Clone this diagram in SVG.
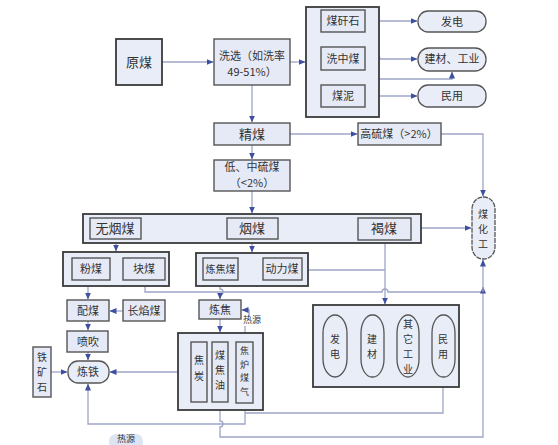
<svg xmlns="http://www.w3.org/2000/svg" width="558" height="445" viewBox="0 0 558 445">
<defs>
<marker id="ar" markerWidth="7" markerHeight="6" refX="6.5" refY="3" orient="auto" markerUnits="userSpaceOnUse">
<path d="M0,0 L7,3 L0,6 Z" fill="#3d4f9e"/>
</marker>
<style>
.ob{fill:#e9edf7;stroke:#3a3a3a;stroke-width:1.8}
.ib{fill:#e6eaf6;stroke:#555;stroke-width:1.4}
.pl{fill:#e9edf7;stroke:#555;stroke-width:1.3}
.c{fill:none;stroke:#9ea5c8;stroke-width:1.3}
.a{marker-end:url(#ar)}
text{font-family:"Noto Sans CJK SC","Liberation Sans",sans-serif;font-size:11px;fill:#333;text-anchor:middle}
.lg{font-size:13px}
.sm{font-size:9px}
.vs{font-size:10px}
.v{font-size:10px}
.xs{font-size:9px}
</style>
</defs>
<rect width="558" height="445" fill="#ffffff"/>

<g id="connectors">
<path class="c a" d="M162 62 H213"/>
<path class="c a" d="M290 62 H305"/>
<path class="c a" d="M365 21 H417"/>
<path class="c a" d="M365 59 H374 a3 3 0 0 1 6 0 H417"/>
<path class="c a" d="M365 96 H417"/>
<path class="c" d="M377 21 V96"/>
<path class="c a" d="M377 79 H452 V72"/>
<path class="c a" d="M252 85 V122"/>
<path class="c a" d="M290 134 H357"/>
<path class="c a" d="M441 134 H483 V196"/>
<path class="c a" d="M252 145 V159"/>
<path class="c a" d="M252 191 V213"/>
<path class="c a" d="M411 228 H471"/>
<path class="c a" d="M116 243 V251"/>
<path class="c a" d="M252 243 V252"/>
<path class="c a" d="M385 240 V304"/>
<path class="c" d="M302 270 H385"/>
<path class="c" d="M145 280 V292 H382 a3 3 0 0 1 6 0 H483"/>
<path class="c a" d="M220 280 V289 a3 3 0 0 1 0 6 V299"/>
<path class="c a" d="M88 286 V299"/>
<path class="c a" d="M123 311 H110"/>
<path class="c a" d="M88 321 V330"/>
<path class="c a" d="M88 352 V360"/>
<path class="c a" d="M51 372 H67"/>
<path class="c a" d="M191 372 H110"/>
<path class="c a" d="M220 319 V332"/>
<path class="c a" d="M245 403 V424 H88 V384"/>
<path class="c a" d="M245 413 H443 V379"/>
<path class="c a" d="M220 410 V421 a3 3 0 0 1 0 6 V437 H483 V287"/>
<path class="c a" d="M483 292 V260"/>
<path class="c" d="M245 342 V326"/>
<path class="c a" d="M249 316 V310 H242"/>
</g>

<g id="yuanmei"><rect class="ob" x="116" y="39" width="46" height="46"/><text class="lg" x="139" y="67">原煤</text></g>
<g id="xixuan"><rect class="ib" x="214" y="39" width="76" height="46"/><text x="252" y="60">洗选（如洗率</text><text x="252" y="76">49-51%）</text></g>
<g id="xuangroup"><rect class="ob" x="306" y="7" width="73" height="110"/></g>
<g id="meiganshi"><rect class="ib" x="321" y="10" width="44" height="22"/><text x="343" y="25">煤矸石</text></g>
<g id="xizhongmei"><rect class="ib" x="321" y="47" width="44" height="23"/><text x="343" y="63">洗中煤</text></g>
<g id="meini"><rect class="ib" x="321" y="85" width="44" height="22"/><text x="343" y="100">煤泥</text></g>
<g id="fadian1"><rect class="pl" x="418" y="11" width="68" height="21" rx="10"/><text x="452" y="26">发电</text></g>
<g id="jiancai1"><rect class="pl" x="418" y="48" width="68" height="23" rx="11"/><text x="452" y="63">建材、工业</text></g>
<g id="minyong1"><rect class="pl" x="418" y="85" width="68" height="22" rx="10"/><text x="452" y="100">民用</text></g>

<g id="jingmei"><rect class="ib" x="214" y="123" width="76" height="22"/><text class="lg" x="252" y="139">精煤</text></g>
<g id="gaoliumei"><rect class="ib" x="358" y="123" width="83" height="22"/><text x="399" y="138">高硫煤（&gt;2%）</text></g>
<g id="dizhongliu"><rect class="ib" x="214" y="160" width="76" height="31"/><text x="252" y="171">低、中硫煤</text><text x="252" y="187">（&lt;2%）</text></g>

<g id="meizhonggroup"><rect class="ob" x="83" y="214" width="338" height="29"/></g>
<g id="wuyanmei"><rect class="ib" x="90" y="218" width="51" height="21"/><text class="lg" x="115" y="233">无烟煤</text></g>
<g id="yanmei"><rect class="ib" x="227" y="218" width="51" height="21"/><text class="lg" x="252" y="233">烟煤</text></g>
<g id="hemei"><rect class="ib" x="358" y="218" width="53" height="22"/><text class="lg" x="384" y="233">褐煤</text></g>
<g id="meihuagong"><rect class="pl" x="472" y="197" width="23" height="62" rx="11" ry="12" stroke-dasharray="5 1"/><text class="v" x="483" y="218">煤</text><text class="v" x="483" y="233">化</text><text class="v" x="483" y="248">工</text></g>

<g id="fenkuaigroup"><rect class="ob" x="63" y="252" width="106" height="34"/></g>
<g id="fenmei"><rect class="ib" x="72" y="258" width="38" height="22"/><text x="91" y="273">粉煤</text></g>
<g id="kuaimei"><rect class="ib" x="123" y="258" width="42" height="22"/><text x="144" y="273">块煤</text></g>
<g id="lianjiaogroup"><rect class="ob" x="196" y="253" width="112" height="33"/></g>
<g id="lianjiaomei"><rect class="ib" x="203" y="258" width="35" height="22"/><text class="vs" x="220.5" y="273">炼焦煤</text></g>
<g id="donglimei"><rect class="ib" x="263" y="258" width="39" height="22"/><text x="282" y="273">动力煤</text></g>

<g id="peimei"><rect class="ib" x="67" y="300" width="42" height="21"/><text x="88" y="315">配煤</text></g>
<g id="changyanmei"><rect class="ib" x="123" y="300" width="42" height="21"/><text x="144" y="315">长焰煤</text></g>
<g id="penchui"><rect class="ib" x="67" y="331" width="41" height="21"/><text x="88" y="346">喷吹</text></g>
<g id="liantie"><rect class="pl" x="68" y="361" width="41" height="22" rx="10"/><text x="88" y="376">炼铁</text></g>
<g id="tiekuangshi"><rect class="ib" x="33" y="347" width="18" height="50"/><text class="v" x="42" y="361">铁</text><text class="v" x="42" y="376">矿</text><text class="v" x="42" y="391">石</text></g>

<g id="lianjiao"><rect class="ib" x="199" y="300" width="42" height="19"/><text x="220" y="314">炼焦</text></g>
<g id="reyuan1"><text class="sm" x="252" y="323">热源</text></g>
<g id="jiaogroup"><rect class="ob" x="178" y="333" width="85" height="77"/></g>
<g id="jiaotan"><rect class="ib" x="191" y="342" width="16" height="60"/><text class="v" x="199" y="364">焦</text><text class="v" x="199" y="380">炭</text></g>
<g id="meijiaoyou"><rect class="ib" x="212" y="342" width="16" height="60"/><text class="v" x="220" y="359">煤</text><text class="v" x="220" y="374">焦</text><text class="v" x="220" y="389">油</text></g>
<g id="jiaolumeiqi"><rect class="ib" x="236" y="342" width="17" height="61"/><text class="xs" x="244.5" y="354">焦</text><text class="xs" x="244.5" y="367.5">炉</text><text class="xs" x="244.5" y="381">煤</text><text class="xs" x="244.5" y="394.5">气</text></g>

<g id="yongtugroup"><rect class="ob" x="313" y="305" width="146" height="82"/></g>
<g id="fadian2"><rect class="pl" x="323" y="315" width="24" height="62" rx="12" ry="18"/><text class="v" x="335" y="343">发</text><text class="v" x="335" y="358">电</text></g>
<g id="jiancai2"><rect class="pl" x="361" y="315" width="23" height="62" rx="11" ry="18"/><text class="v" x="372" y="343">建</text><text class="v" x="372" y="358">材</text></g>
<g id="qitagongye"><rect class="pl" x="397" y="315" width="22" height="62" rx="11" ry="18"/><text class="v" x="408" y="328">其</text><text class="v" x="408" y="343">它</text><text class="v" x="408" y="358">工</text><text class="v" x="408" y="373">业</text></g>
<g id="minyong2"><rect class="pl" x="432" y="315" width="23" height="62" rx="11" ry="18"/><text class="v" x="443" y="343">民</text><text class="v" x="443" y="358">用</text></g>

<g id="reyuan2"><rect x="109" y="434" width="34" height="16" rx="7" fill="#dde4f2"/><text class="sm" x="126" y="442">热源</text></g>
</svg>
